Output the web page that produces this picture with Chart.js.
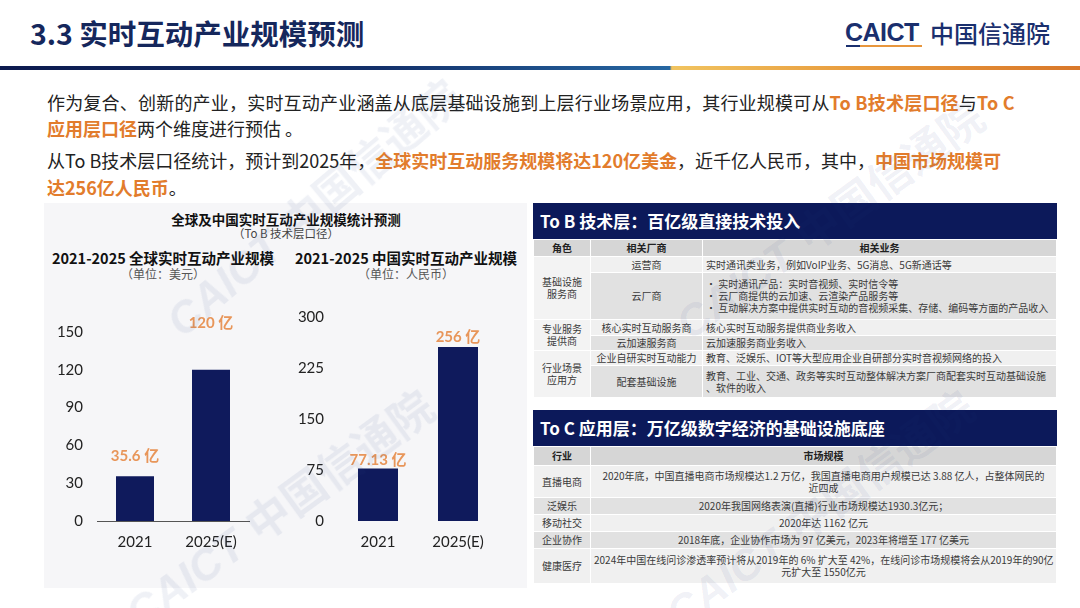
<!DOCTYPE html>
<html>
<head>
<meta charset="utf-8">
<script src="https://cdn.jsdelivr.net/npm/chart.js@4.4.1/dist/chart.umd.min.js"></script>
<style>
  body { margin: 0; width: 1080px; height: 608px; position: relative; overflow: hidden; background: #fff;
         font-family: "Noto Sans CJK SC", "Noto Sans", sans-serif; color: #222; }
  .abs { position: absolute; white-space: nowrap; }
  .title { left: 30px; top: 13px; font-size: 28.5px; font-weight: 700; color: #15275c; line-height: 40px; }
  .rule { left: 0; top: 66px; width: 1080px; height: 4px;
          background: linear-gradient(to right, #0c1a4e 0%, #13306a 35%, #2667a2 62%, #f1c460 62.2%, #e89a3c 80%, #d9782a 100%); }
  .logo1 { left: 845px; top: 17px; font-family: "Liberation Sans", sans-serif; font-weight: 700; font-size: 25px;
           color: #1a2f6e; line-height: 30px; letter-spacing: -0.5px; }
  .logo-ul { left: 846px; top: 45px; width: 76px; height: 2px; background: linear-gradient(to right, #1a2f6e 18%, #e8963c 18%); }
  .logo2 { left: 930px; top: 16px; font-size: 24px; font-weight: 500; color: #1a2f6e; line-height: 34px; }
  .para { left: 47px; font-size: 18px; line-height: 26px; color: #222; }
  .para b { color: #e27c2c; font-weight: 700; }
  .panel { left: 44px; top: 203px; width: 483px; height: 385px; background: #f6f6f8; }
  .ct { text-align: center; transform: translateX(-50%); }
  .hdr { left: 533px; width: 524px; height: 36px; background: #0c195a; color: #fff; font-weight: 700;
         font-size: 17px; line-height: 36px; padding-left: 7px; box-sizing: border-box; }
  table { position: absolute; left: 533px; width: 524px; border-collapse: collapse; table-layout: fixed;
          font-size: 10px; line-height: 12px; color: #3a3a3a; }
  td { border: 1px solid #fff; padding: 0 3px; text-align: center; overflow: hidden; white-space: nowrap; }
  td.l { text-align: left; }
  tr.h td { background: #d6d6d6; font-weight: 700; color: #222; }
  tr.a td { background: #f0f0f0; }
  tr.b td { background: #e1e1e1; }
  td.role { background: #f3f3f3 !important; }
  .wm { position: absolute; white-space: nowrap; font-weight: 700; font-size: 44px; color: rgba(40, 62, 130, 0.075);
        transform-origin: 0 0; pointer-events: none; z-index: 10; }
  .wm span { font-family: "Liberation Sans", sans-serif; font-style: italic; margin-right: 14px; }
</style>
</head>
<body>
<div class="abs title">3.3 实时互动产业规模预测</div>
<div class="abs logo1">CAICT</div>
<div class="abs logo-ul"></div>
<div class="abs logo2">中国信通院</div>
<div class="abs rule"></div>

<div class="abs para" style="top:89px;letter-spacing:0.2px">作为复合、创新的产业，实时互动产业涵盖从底层基础设施到上层行业场景应用，其行业规模可从<b>To B技术层口径</b>与<b>To C</b></div>
<div class="abs para" style="top:115px"><b>应用层口径</b>两个维度进行预估 。</div>
<div class="abs para" style="top:147px">从To B技术层口径统计，预计到2025年，<b>全球实时互动服务规模将达120亿美金</b>，近千亿人民币，其中，<b>中国市场规模可</b></div>
<div class="abs para" style="top:174px"><b>达256亿人民币</b>。</div>

<div class="abs panel"></div>
<div class="abs ct" style="left:286px;top:210px;font-size:13.5px;font-weight:700;line-height:18px;color:#111">全球及中国实时互动产业规模统计预测</div>
<div class="abs ct" style="left:286px;top:226px;font-size:11.5px;line-height:15px;color:#444">（To B 技术层口径）</div>
<div class="abs ct" style="left:163px;top:248px;font-size:14.5px;font-weight:700;line-height:20px;color:#111">2021-2025 全球实时互动产业规模</div>
<div class="abs ct" style="left:163px;top:266px;font-size:12px;line-height:16px;color:#555">（单位：美元）</div>
<div class="abs ct" style="left:406px;top:248px;font-size:14.5px;font-weight:700;line-height:20px;color:#111">2021-2025 中国实时互动产业规模</div>
<div class="abs ct" style="left:406px;top:266px;font-size:12px;line-height:16px;color:#555">（单位：人民币）</div>

<canvas id="chartGlobal" width="246" height="275" style="position:absolute;left:44px;top:290px"></canvas>
<canvas id="chartChina" width="240" height="275" style="position:absolute;left:290px;top:290px"></canvas>

<div class="abs hdr" style="top:203px">To B 技术层：百亿级直接技术投入</div>
<table style="top:239px">
  <colgroup><col style="width:57px"><col style="width:112px"><col></colgroup>
  <tr class="h" style="height:17px"><td>角色</td><td>相关厂商</td><td>相关业务</td></tr>
  <tr class="a" style="height:16px"><td class="role" rowspan="2">基础设施<br>服务商</td><td>运营商</td><td class="l">实时通讯类业务，例如VoIP业务、5G消息、5G新通话等</td></tr>
  <tr class="b" style="height:47px"><td>云厂商</td><td class="l">• 实时通讯产品：实时音视频、实时信令等<br>• 云厂商提供的云加速、云渲染产品服务等<br>• 互动解决方案中提供实时互动的音视频采集、存储、编码等方面的产品收入</td></tr>
  <tr class="a" style="height:16px"><td class="role" rowspan="2">专业服务<br>提供商</td><td>核心实时互动服务商</td><td class="l">核心实时互动服务提供商业务收入</td></tr>
  <tr class="b" style="height:15px"><td>云加速服务商</td><td class="l">云加速服务商业务收入</td></tr>
  <tr class="a" style="height:15px"><td class="role" rowspan="2">行业场景<br>应用方</td><td>企业自研实时互动能力</td><td class="l">教育、泛娱乐、IOT等大型应用企业自研部分实时音视频网络的投入</td></tr>
  <tr class="b" style="height:32px"><td>配套基础设施</td><td class="l">教育、工业、交通、政务等实时互动整体解决方案厂商配套实时互动基础设施<br>、软件的收入</td></tr>
</table>

<div class="abs hdr" style="top:410px">To C 应用层：万亿级数字经济的基础设施底座</div>
<table style="top:446px">
  <colgroup><col style="width:57px"><col></colgroup>
  <tr class="h" style="height:19px"><td>行业</td><td>市场规模</td></tr>
  <tr class="a" style="height:32px"><td>直播电商</td><td>2020年底，中国直播电商市场规模达1.2 万亿，我国直播电商用户规模已达 3.88 亿人，占整体网民的<br>近四成</td></tr>
  <tr class="b" style="height:17px"><td>泛娱乐</td><td>2020年我国网络表演(直播)行业市场规模达1930.3亿元；</td></tr>
  <tr class="a" style="height:17px"><td>移动社交</td><td>2020年达 1162 亿元</td></tr>
  <tr class="b" style="height:17px"><td>企业协作</td><td>2018年底，企业协作市场为 97 亿美元，2023年将增至 177 亿美元</td></tr>
  <tr class="a" style="height:35px"><td>健康医疗</td><td>2024年中国在线问诊渗透率预计将从2019年的 6% 扩大至 42%，在线问诊市场规模将会从2019年的90亿<br>元扩大至 1550亿元</td></tr>
</table>

<div class="wm" style="left:110px;top:590px;transform:rotate(-36deg)"><span>CAICT</span>中国信通院</div>
<div class="wm" style="left:150px;top:300px;transform:rotate(-40deg)"><span>CAICT</span>中国信通院</div>
<div class="wm" style="left:660px;top:300px;transform:rotate(-36deg)"><span>CAICT</span>中国信通院</div>
<div class="wm" style="left:650px;top:590px;transform:rotate(-36deg)"><span>CAICT</span>中国信通院</div>

<script>
const years = ['2021', '2025(E)'];
const globalValues = [35.6, 120];
const chinaValues = [77.13, 256];
const globalLabels = ['35.6 亿', '120 亿'];
const chinaLabels = ['77.13 亿', '256 亿'];
const globalTicks = [0, 30, 60, 90, 120, 150];
const chinaTicks = [0, 75, 150, 225, 300];

const navy = '#0f1a5c';
const tickFont = { family: 'Lato, "Noto Sans CJK SC", sans-serif', size: 15 };

// draws the orange value text above each bar
const barLabels = {
  id: 'barLabels',
  afterDatasetsDraw(chart, args, opts) {
    const ctx = chart.ctx;
    const bars = chart.getDatasetMeta(0).data;
    ctx.save();
    ctx.font = 'bold 15px Lato, "Noto Sans CJK SC", sans-serif';
    ctx.fillStyle = '#e8965a';
    ctx.textAlign = 'center';
    ctx.textBaseline = 'middle';
    bars.forEach((bar, i) => {
      ctx.fillText(opts.texts[i], bar.x, bar.y - opts.lift[i]);
    });
    ctx.restore();
  }
};

function makeChart(id, values, texts, lift, ticks, yWidth, pad, showBase) {
  return new Chart(document.getElementById(id), {
    type: 'bar',
    data: {
      labels: years,
      datasets: [{
        data: values,
        backgroundColor: navy,
        barPercentage: 0.5,
        categoryPercentage: 1
      }]
    },
    options: {
      responsive: false,
      animation: false,
      layout: { padding: pad },
      plugins: {
        legend: { display: false },
        tooltip: { enabled: false },
        barLabels: { texts: texts, lift: lift }
      },
      scales: {
        x: {
          grid: { display: false, drawTicks: false },
          border: { display: showBase, color: '#555', width: 1 },
          ticks: { font: tickFont, color: '#222', padding: 12 },
          afterFit: s => { s.height = 44; }
        },
        y: {
          min: ticks[0],
          max: ticks[ticks.length - 1],
          grid: { display: false, drawTicks: false },
          border: { display: false },
          ticks: { font: tickFont, color: '#222', padding: 14 },
          afterBuildTicks: s => { s.ticks = ticks.map(v => ({ value: v })); },
          afterFit: s => { s.width = yWidth; }
        }
      }
    },
    plugins: [barLabels]
  });
}

makeChart('chartGlobal', globalValues, globalLabels, [20, 47], globalTicks, 53,
  { top: 42, right: 41, bottom: 0, left: 0 }, true);
makeChart('chartChina', chinaValues, chinaLabels, [8, 10], chinaTicks, 48,
  { top: 27, right: 32, bottom: 0, left: 0 }, false);
</script>
</body>
</html>
